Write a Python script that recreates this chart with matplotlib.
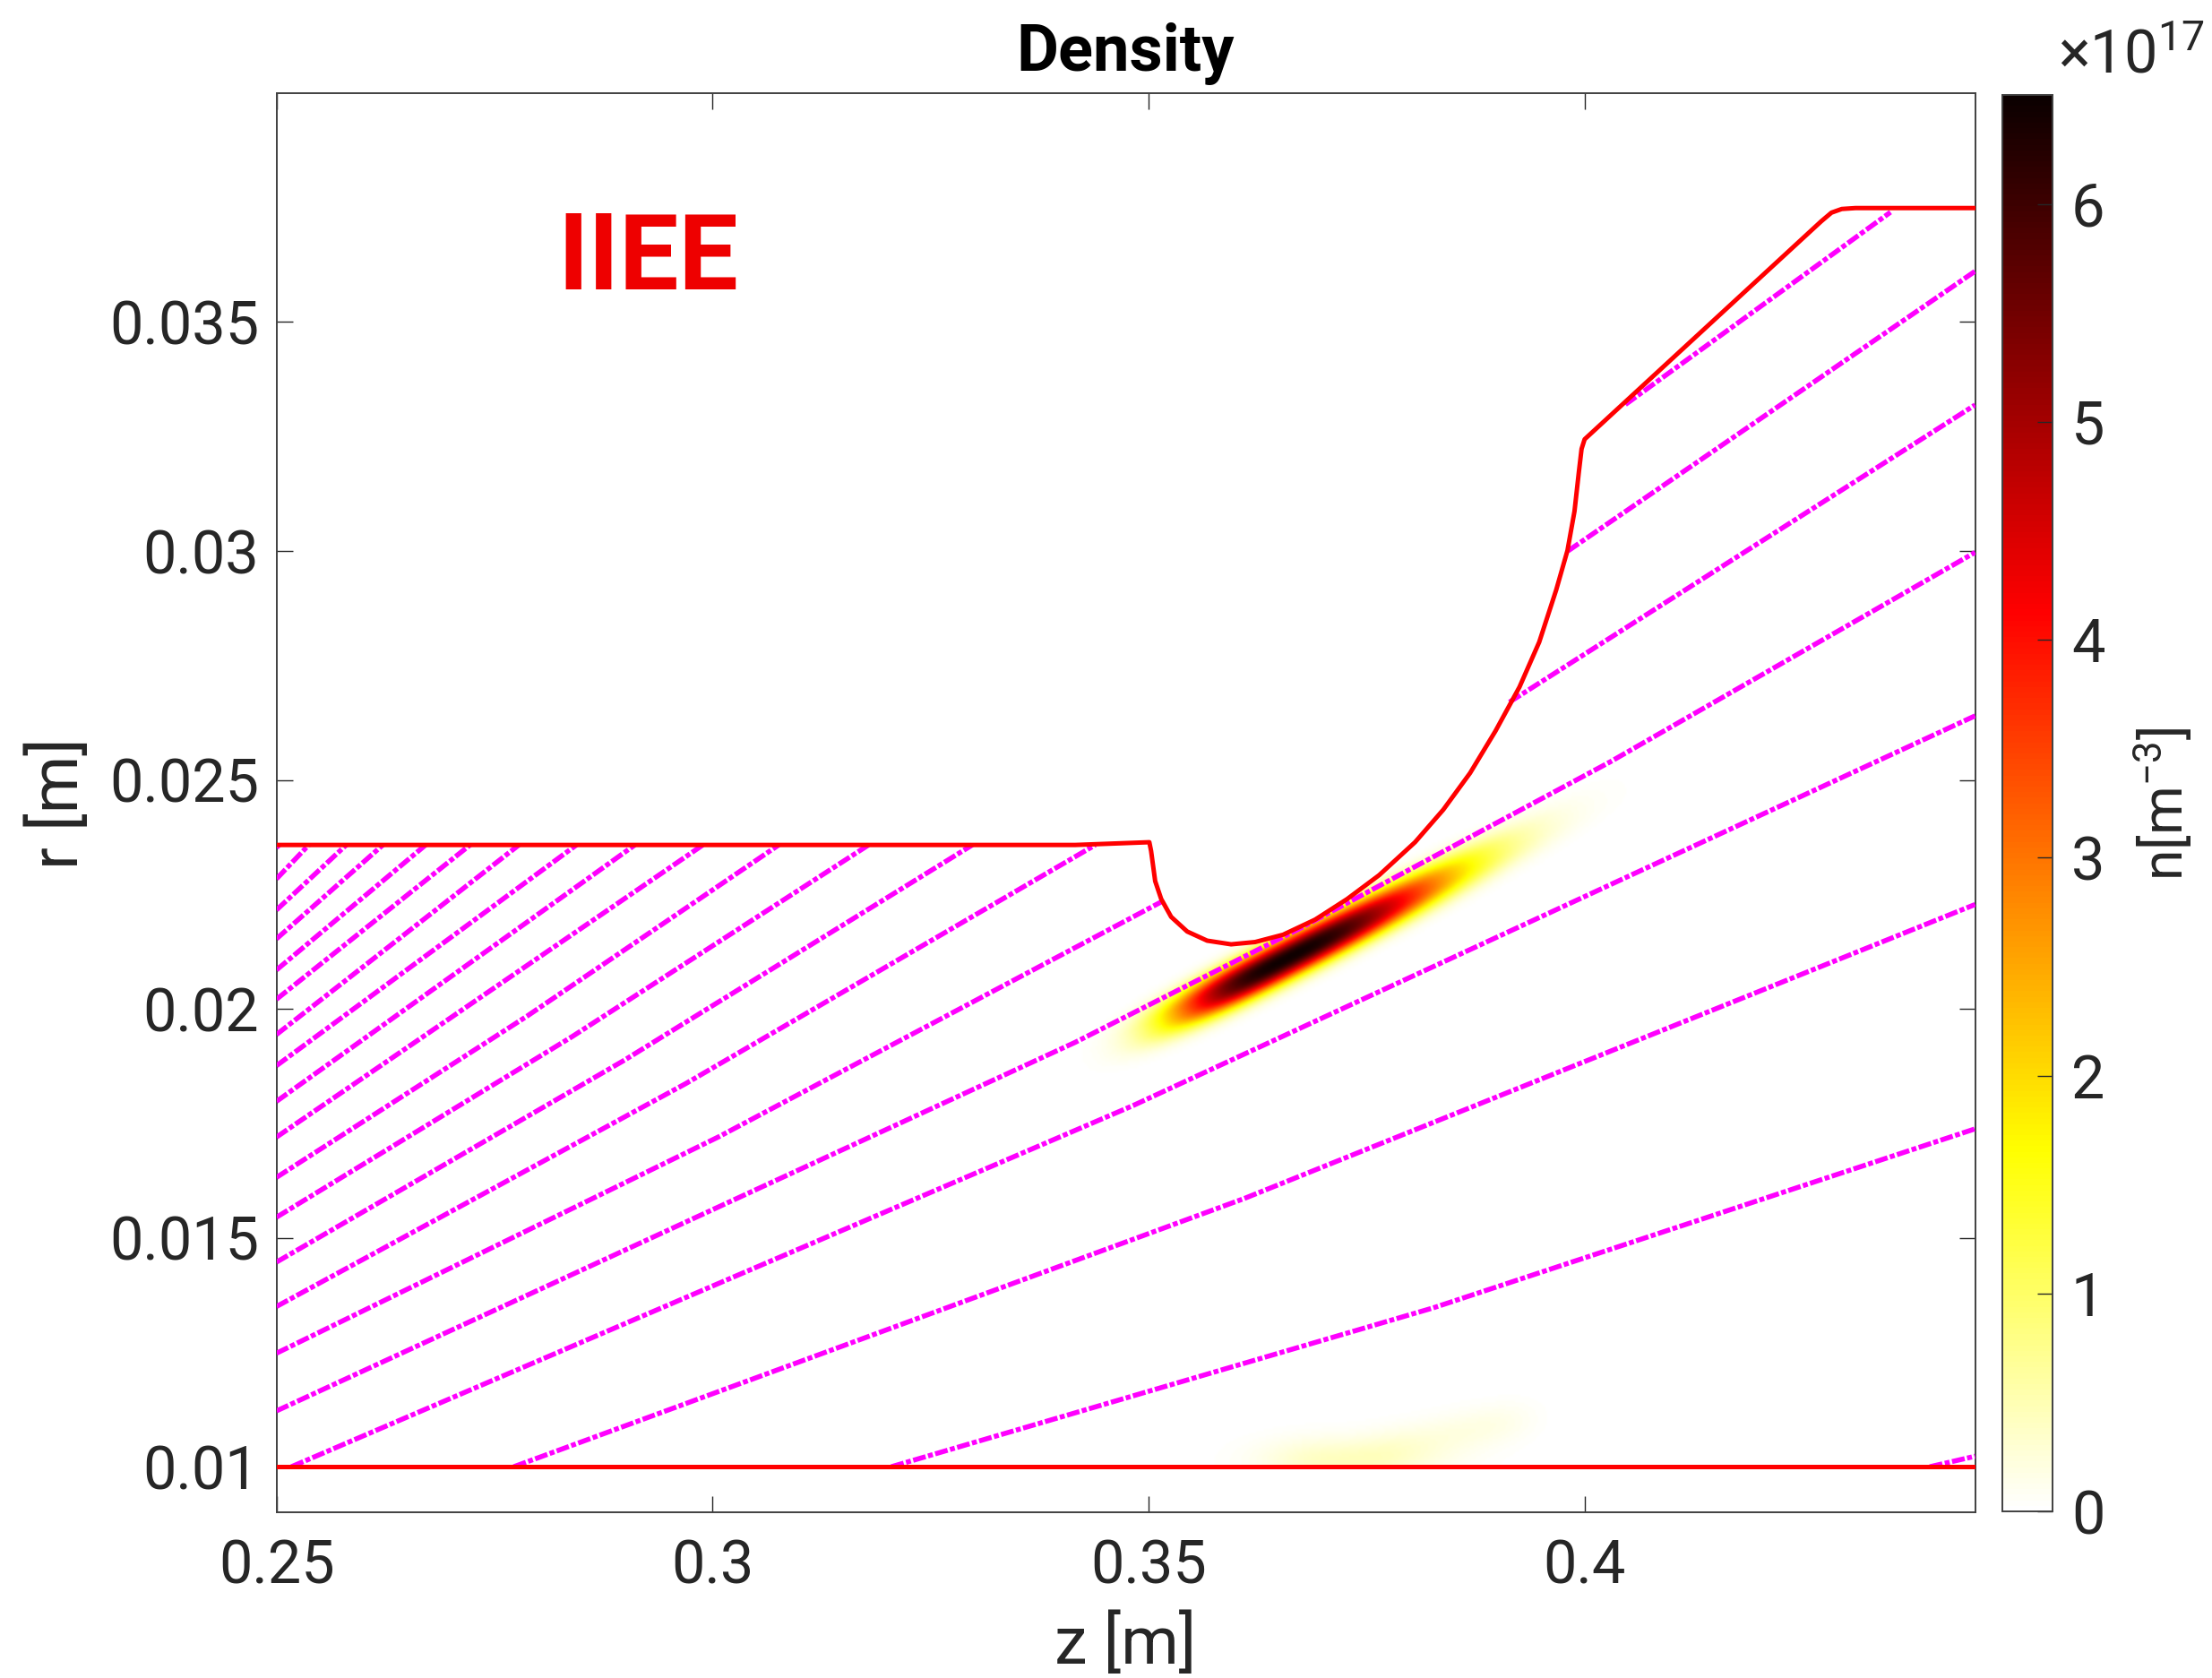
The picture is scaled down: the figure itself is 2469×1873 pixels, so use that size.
import numpy as np
import matplotlib.pyplot as plt

plt.rcParams['font.family'] = ['Roboto', 'DejaVu Sans']
plt.rcParams['mathtext.fontset'] = 'custom'
plt.rcParams['mathtext.rm'] = 'Roboto'
plt.rcParams['mathtext.it'] = 'Roboto:italic'
plt.rcParams['mathtext.bf'] = 'Roboto:bold'

# ---- data ----------------------------------------------------------------
z_lim = (0.25, 0.4448)
r_lim = (0.009, 0.04)
x_ticks = [0.25, 0.3, 0.35, 0.4]
x_labels = ['0.25', '0.3', '0.35', '0.4']
y_ticks = [0.01, 0.015, 0.02, 0.025, 0.03, 0.035]
y_labels = ['0.01', '0.015', '0.02', '0.025', '0.03', '0.035']
cb_ticks = [0, 1, 2, 3, 4, 5, 6]
n_max = 6.5            # x1e17

# red wall (upper boundary) and axis line
wall_z = [0.25, 0.3416, 0.3501, 0.3503, 0.35077, 0.35146, 0.3526, 0.35444,
          0.35673, 0.35948, 0.36223, 0.36544, 0.36912, 0.37279, 0.37645,
          0.38057, 0.38381, 0.38688, 0.38980, 0.39255, 0.39481, 0.39676,
          0.39805, 0.39886, 0.39935, 0.39967, 0.40002, 0.42715, 0.42833,
          0.42951, 0.43109, 0.4448]
wall_r = [0.02358, 0.02358, 0.02364, 0.02345, 0.02279, 0.02240, 0.02201, 0.02169,
          0.02149, 0.02141, 0.02146, 0.02162, 0.02195, 0.02240, 0.02292,
          0.02364, 0.02435, 0.02515, 0.02607, 0.02703, 0.02801, 0.02915,
          0.03001, 0.03087, 0.03171, 0.03223, 0.03244, 0.03720, 0.03739,
          0.03747, 0.03749, 0.03749]
axis_z = [0.25, 0.4448]
axis_r = [0.01, 0.01]

# magnetic field lines, each as (z list, r list)
field_lines = [
    ([0.25, 0.2503], [0.02352, 0.02358]),
    ([0.25, 0.2537], [0.02284, 0.02358]),
    ([0.25, 0.2580], [0.02216, 0.02358]),
    ([0.25, 0.2622], [0.02153, 0.02358]),
    ([0.25, 0.2671], [0.02085, 0.02358]),
    ([0.25, 0.2722], [0.02021, 0.02358]),
    ([0.25, 0.2778], [0.01944, 0.02358]),
    ([0.25, 0.2844], [0.01876, 0.02358]),
    ([0.25, 0.2911], [0.01798, 0.02358]),
    ([0.25, 0.2989], [0.01720, 0.02358]),
    ([0.25, 0.2788, 0.3076], [0.01632, 0.01985, 0.02358]),
    ([0.25, 0.28395, 0.3179], [0.01545, 0.0194, 0.02358]),
    ([0.25, 0.2899, 0.3298], [0.01447, 0.01888, 0.02358]),
    ([0.25, 0.29695, 0.3439], [0.01350, 0.01837, 0.02358]),
    ([0.25, 0.30075, 0.3515], [0.01248, 0.01721, 0.02234]),
    ([0.25, 0.3416, 0.3673, 0.4030, 0.4448], [0.01122, 0.01927, 0.02175, 0.02540, 0.02997]),
    ([0.2517, 0.34825, 0.4448], [0.01, 0.01789, 0.02640]),
    ([0.2772, 0.3610, 0.4448], [0.01, 0.01586, 0.02228]),
    ([0.3205, 0.38265, 0.4448], [0.01, 0.01347, 0.01738]),
    ([0.4396, 0.4448], [0.01, 0.01023]),
    ([0.4047, 0.4351], [0.0332, 0.0374]),
    ([0.3981, 0.4448], [0.0300, 0.03611]),
    ([0.3914, 0.4448], [0.0267, 0.03319]),
]

# density blobs: centre z, centre r, tilt (deg), half-lengths (low/high side),
# shape exponents, half-width, width exponent, peak (x1e17)
r_stretch = 5.255      # r units -> screen-equivalent z units
blobs = [
    (0.3662, 0.02112, 27, 0.0150, 0.0205, 3.0, 2.3, 0.0022, 2.4, 6.45),
    (0.3710, 0.01010, 0, 0.0080, 0.0110, 2.0, 2.0, 0.0026, 2.0, 0.42),
    (0.3840, 0.01065, 12, 0.0100, 0.0100, 4.0, 4.0, 0.0024, 2.0, 0.20),
]


def blob(Z, R, zc, rc, ang, a_lo, a_hi, p_lo, p_hi, b, q, amp):
    X = Z - zc
    Y = (R - rc) * r_stretch
    c, s = np.cos(np.radians(ang)), np.sin(np.radians(ang))
    u = X * c + Y * s
    v = -X * s + Y * c
    a = np.where(u < 0, a_lo, a_hi)
    p = np.where(u < 0, p_lo, p_hi)
    return amp * np.exp(-(np.abs(u) / a) ** p - (np.abs(v) / b) ** q)


zz = np.linspace(z_lim[0], z_lim[1], 900)
rr = np.linspace(r_lim[0], r_lim[1], 700)
Z, R = np.meshgrid(zz, rr)
dens = np.zeros_like(Z)
for bl in blobs:
    dens += blob(Z, R, *bl)
r_top = np.interp(Z, wall_z, wall_r)
dens[(R > r_top) | (R < 0.01)] = 0.0

# ---- figure ---------------------------------------------------------------
fig = plt.figure(figsize=(24.69, 18.73), dpi=100)
ax = fig.add_axes([0.125, 0.0986, 0.7679, 0.8459])
im = ax.imshow(dens, extent=(z_lim[0], z_lim[1], r_lim[0], r_lim[1]),
               origin='lower', aspect='auto', cmap='hot_r',
               vmin=0, vmax=n_max, interpolation='bilinear')

for lz, lr in field_lines:
    ax.plot(lz, lr, color='#FF00FF', lw=4.0,
            linestyle=(0, (2.6, 0.5, 1.0, 0.5)), zorder=3)

ax.plot(wall_z, wall_r, color='red', lw=3.6, zorder=4)
ax.plot(axis_z, axis_r, color='red', lw=3.6, zorder=4)

ax.text(0.2822, 0.03571, 'IIEE', color='#EE0000', fontsize=85,
        fontweight='bold', ha='left', va='baseline')

ax.set_xlim(z_lim)
ax.set_ylim(r_lim)
ax.set_xticks(x_ticks)
ax.set_xticklabels(x_labels)
ax.set_yticks(y_ticks)
ax.set_yticklabels(y_labels)
ax.tick_params(direction='in', length=13, width=1.0, top=True, right=True,
               labelsize=48, colors='#262626')
ax.tick_params(axis='x', pad=21)
ax.tick_params(axis='y', pad=14)
for sp in ax.spines.values():
    sp.set_color('#404040')
    sp.set_linewidth(1.4)

ax.set_xlabel('z [m]', fontsize=53, color='#262626')
ax.set_ylabel('r [m]', fontsize=53, color='#262626')
ax.xaxis.set_label_coords(0.5, -0.0707)
ax.yaxis.set_label_coords(-0.109, 0.5)
ax.set_title('Density', fontsize=52, fontweight='bold', pad=18)

cax = fig.add_axes([0.9052, 0.0993, 0.0227, 0.8441])
cb = fig.colorbar(im, cax=cax)
cb.set_ticks(cb_ticks)
cb.set_ticklabels([str(t) for t in cb_ticks])
cax.tick_params(direction='in', length=12, width=1.0, labelsize=48,
                colors='#262626', pad=15)
cb.outline.set_edgecolor('#404040')
cb.outline.set_linewidth(1.4)

fig.text(2297 / 2469, 1 - 82 / 1873, r'$\mathregular{\times10^{17}}$',
         fontsize=48, color='#262626', ha='left', va='baseline')
fig.text(2415 / 2469, 1 - 897 / 1873, r'n[m$^{\mathregular{-3}}$]',
         fontsize=45, color='#262626', rotation=90, ha='center', va='center')

fig.savefig('out.png', dpi=100)
